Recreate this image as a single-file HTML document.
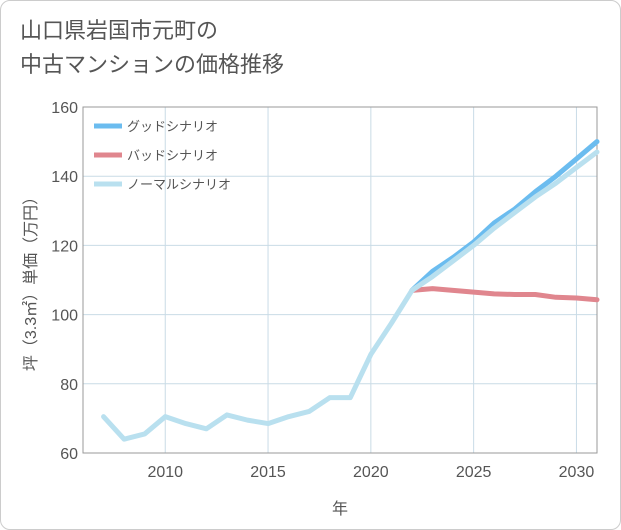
<!DOCTYPE html>
<html><head><meta charset="utf-8"><style>
body{margin:0;background:#fff;}
#wrap{position:relative;width:621px;height:530px;background:#fff;font-family:"Liberation Sans","Noto Sans CJK JP",sans-serif;}
#frame{position:absolute;left:0;top:0;width:619px;height:528px;border:1px solid #ccc;border-radius:10px;}
#title{position:absolute;left:20px;top:14px;font-size:22px;line-height:34px;color:#555;}
svg{position:absolute;left:0;top:0;}
</style></head><body>
<div id="wrap">
<div id="frame"></div>
<div id="title">山口県岩国市元町の<br>中古マンションの価格推移</div>
<svg id="chart" width="621" height="530"></svg>
</div>
<script>
const years=[2007,2008,2009,2010,2011,2012,2013,2014,2015,2016,2017,2018,2019,2020,2021,2022,2023,2024,2025,2026,2027,2028,2029,2030,2031];
const normal=[70.5,64,65.5,70.5,68.5,67,71,69.5,68.5,70.5,72,76,76,88.5,97.5,107,111,115.5,120,125,129.5,134,138,142.5,147];
const goodYears=[2022,2023,2024,2025,2026,2027,2028,2029,2030,2031];
const good=[107,112.5,116.5,121,126.5,130.5,135.5,140,145,150];
const bad=[107,107.5,107,106.5,106,105.8,105.8,105,104.8,104.3];
const yTicks=[60,80,100,120,140,160];
const xTicks=[2010,2015,2020,2025,2030];
const L=83,R=597,T=107,B=453;
const x=v=>L+(v-2006)/(2031-2006)*(R-L);
const y=v=>B-(v-60)/100*(B-T);
const svg=document.getElementById('chart');
const NS='http://www.w3.org/2000/svg';
function add(tag,attrs,parent){const e=document.createElementNS(NS,tag);for(const k in attrs)e.setAttribute(k,attrs[k]);(parent||svg).appendChild(e);return e;}
yTicks.forEach(t=>{const l=add('line',{x1:L,x2:R,y1:y(t),y2:y(t),stroke:'#c9dbe6','stroke-width':1});

const tx=add('text',{x:L-5,y:y(t)+6,'text-anchor':'end','font-size':16,fill:'#555'});tx.textContent=t;
});
xTicks.forEach(t=>{const l=add('line',{x1:x(t),x2:x(t),y1:T,y2:B,stroke:'#c9dbe6','stroke-width':1});

const tx=add('text',{x:x(t),y:B+24,'text-anchor':'middle','font-size':16,fill:'#555'});tx.textContent=t;
});
const border=add('rect',{x:L,y:T,width:R-L,height:B-T,fill:'none',stroke:'#999','stroke-width':1});

function line(xs,vs,color,name){const p=add('polyline',{points:xs.map((v,i)=>x(v)+','+y(vs[i])).join(' '),fill:'none',stroke:color,'stroke-width':5,'stroke-linejoin':'round','stroke-linecap':'round'});
}
line(goodYears,good,'#6bbcef','good-scenario-line');
line(goodYears,bad,'#e0868e','bad-scenario-line');
line(years,normal,'#b9e0ef','normal-scenario-line');
const leg=[['グッドシナリオ','#6bbcef'],['バッドシナリオ','#e0868e'],['ノーマルシナリオ','#b9e0ef']];
leg.forEach((d,i)=>{const g=add('g',{});
add('line',{x1:94,x2:122,y1:126+i*29,y2:126+i*29,stroke:d[1],'stroke-width':5},g);
const t=add('text',{x:127,y:131+i*29,'font-size':13,fill:'#555'},g);t.textContent=d[0];});
const xt=add('text',{x:340,y:514,'text-anchor':'middle','font-size':16,fill:'#555'});xt.textContent='年';

const yt=add('text',{x:0,y:0,'text-anchor':'middle','font-size':16,fill:'#555',transform:'translate(36,280) rotate(-90)'});yt.textContent='坪（3.3㎡）単価（万円）';

</script>
</body></html>
